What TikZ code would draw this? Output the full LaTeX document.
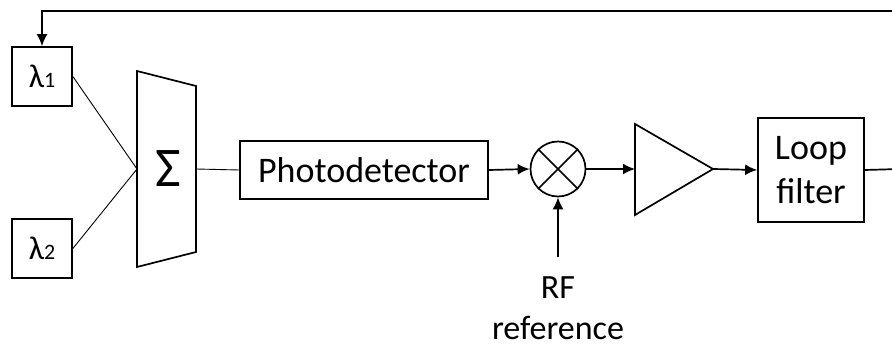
\documentclass[tikz,border=0pt]{standalone}
\usepackage{fontspec}
\setmainfont{Carlito}
\usetikzlibrary{arrows.meta}
\begin{document}
\begin{tikzpicture}[x=1pt,y=-1pt,
  box/.style={draw,line width=1.7pt,inner sep=0pt,align=center,font=\fontsize{36}{44}\selectfont},
  thinln/.style={line width=0.9pt},
  shp/.style={line width=1.7pt,line join=miter},
  arr/.style={line width=1.7pt,-{Latex[length=12pt,width=11pt]}},
  lbl/.style={font=\fontsize{34}{41}\selectfont,anchor=base}]
\useasboundingbox (0,0) rectangle (892,347);
\clip (0,0) rectangle (892,347);
% wavelength sources
\node[box,minimum width=60pt,minimum height=59pt] (lam1) at (42,76.5)
  {{\fontsize{33}{33}\selectfont λ}{\fontsize{22}{22}\selectfont 1}};
\node[box,minimum width=60pt,minimum height=59pt] (lam2) at (42,248.5)
  {{\fontsize{33}{33}\selectfont λ}{\fontsize{22}{22}\selectfont 2}};
% combiner
\draw[shp] (137,71) -- (196,86) -- (196,252) -- (137,267) -- cycle;
\node[font=\fontsize{56}{56}\selectfont] (sum) at (168,169) {Σ};
\coordinate (trin) at (137,169);
\coordinate (trout) at (196,169);
% photodetector
\node[box,minimum width=248pt,minimum height=58pt] (pd) at (364,170) {Photodetector};
% mixer
\node[draw,circle,line width=1.7pt,minimum size=55pt,inner sep=0pt] (mix) at (558,169) {};
\draw[line width=1.7pt] (mix.north west) -- (mix.south east);
\draw[line width=1.7pt] (mix.north east) -- (mix.south west);
% amplifier
\draw[shp] (635,124) -- (713,169) -- (635,215) -- cycle;
\coordinate (ampin) at (635,169);
\coordinate (amptip) at (713,169);
% loop filter
\node[box,minimum width=106pt,minimum height=104pt] (lf) at (811,170) {Loop\\filter};
% RF reference
\node[lbl] (rf) at (558,299) {RF};
\node[lbl] (rfref) at (558,340) {reference};
\coordinate (rfin) at (558,257);
% feedback path
\coordinate (fb1) at (900,169);
\coordinate (fb2) at (900,11);
% connectors
\draw[thinln] (lam1.east) -- (trin);
\draw[thinln] (lam2.east) -- (trin);
\draw[thinln] (trout) -- (pd.west);
\draw[arr] (pd.east) -- (mix.west);
\draw[arr] (mix.east) -- (ampin);
\draw[arr] (amptip) -- (lf.west);
\draw[arr] (rfin) -- (mix.south);
\draw[arr] (lf.east) -- (fb1) -- (fb2) -| (lam1.north);
\end{tikzpicture}
\end{document}
